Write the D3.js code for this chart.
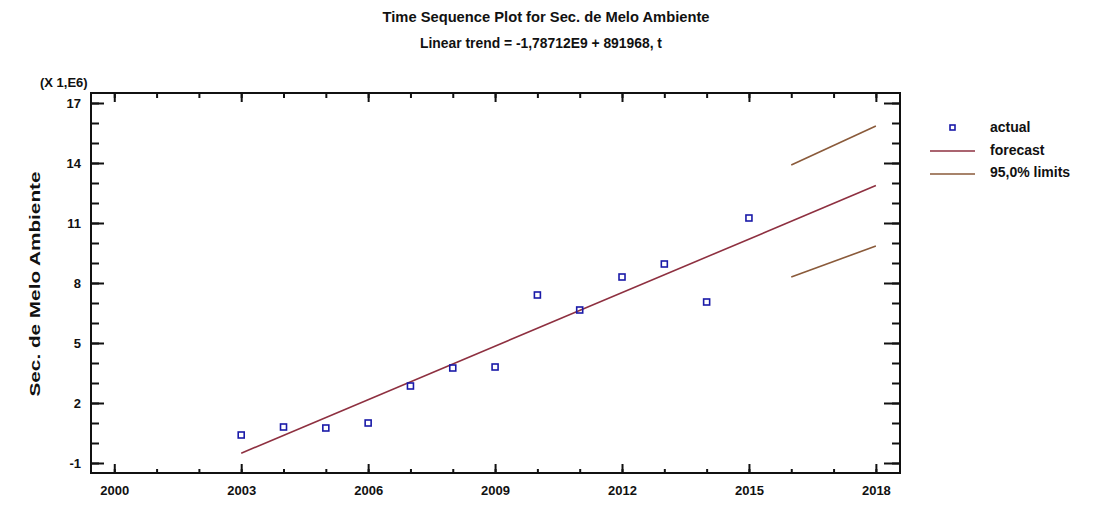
<!DOCTYPE html>
<html lang="en">
  <head>
    <meta charset="utf-8">
    <title>Time Sequence Plot</title>
    <script src="https://d3js.org/d3.v7.min.js"></script>
    <style>
      body { margin: 0; background: #fff; }
      text { font-family: "Liberation Sans", Arial, sans-serif; fill: #111; }
    </style>
  </head>
  <body>
    <script>
      var width = 1107;
      var height = 508;
      var margin = {top: 93, left: 91, right: 207, bottom: 35};

      // actual values (X 1,E6)
      var years = [2003, 2004, 2005, 2006, 2007, 2008, 2009, 2010, 2011, 2012, 2013, 2014, 2015];
      var actual = [0.4, 0.8, 0.75, 1.0, 2.85, 3.75, 3.8, 7.4, 6.65, 8.3, 8.95, 7.05, 11.25];

      // forecast line and 95% limits (end points)
      var forecastYears = [2003, 2018];
      var forecastValues = [-0.51, 12.87];
      var limitYears = [2016, 2018];
      var upperValues = [13.9, 15.85];
      var lowerValues = [8.3, 9.85];

      var xTicks = [2000, 2003, 2006, 2009, 2012, 2015, 2018];
      var yTicks = [-1, 2, 5, 8, 11, 14, 17];

      var svg = d3.select("body")
        .append("svg")
        .attr("width", width)
        .attr("height", height);

      var x = d3.scaleLinear()
        .domain([1999.45, 2018.57])
        .range([margin.left, width - margin.right]);

      var y = d3.scaleLinear()
        .domain([-1.5, 17.5])
        .range([height - margin.bottom, margin.top]);

      var x0 = margin.left, x1 = width - margin.right;
      var y0 = height - margin.bottom, y1 = margin.top;

      var minorX = d3.range(2000, 2019);
      var minorY = d3.range(-1, 18);

      function styleAxis(g) {
        g.select(".domain").remove();
        g.selectAll("line").attr("stroke", "#111").attr("stroke-width", 2);
        g.selectAll("text").attr("font-size", 13).attr("font-weight", "bold").attr("fill", "#222");
      }

      // left
      svg.append("g").attr("transform", `translate(${x0},0)`)
        .call(d3.axisLeft(y).tickValues(minorY).tickSize(-8).tickFormat(""))
        .call(styleAxis);
      svg.append("g").attr("transform", `translate(${x0},0)`)
        .call(d3.axisLeft(y).tickValues(yTicks).tickSize(-13).tickPadding(10)
          .tickFormat(function(d) { return String(d); }))
        .call(styleAxis);
      // right
      svg.append("g").attr("transform", `translate(${x1},0)`)
        .call(d3.axisRight(y).tickValues(minorY).tickSize(-8).tickFormat(""))
        .call(styleAxis);
      svg.append("g").attr("transform", `translate(${x1},0)`)
        .call(d3.axisRight(y).tickValues(yTicks).tickSize(-16).tickFormat(""))
        .call(styleAxis);
      // bottom
      svg.append("g").attr("transform", `translate(0,${y0})`)
        .call(d3.axisBottom(x).tickValues(minorX).tickSize(-4).tickFormat(""))
        .call(styleAxis);
      svg.append("g").attr("transform", `translate(0,${y0})`)
        .call(d3.axisBottom(x).tickValues(xTicks).tickSize(-9).tickPadding(13).tickFormat(d3.format("d")))
        .call(styleAxis);
      // top
      svg.append("g").attr("transform", `translate(0,${y1})`)
        .call(d3.axisTop(x).tickValues(minorX).tickSize(-5).tickFormat(""))
        .call(styleAxis);
      svg.append("g").attr("transform", `translate(0,${y1})`)
        .call(d3.axisTop(x).tickValues(xTicks).tickSize(-9).tickFormat(""))
        .call(styleAxis);

      svg.append("rect")
        .attr("x", x0).attr("y", y1)
        .attr("width", x1 - x0).attr("height", y0 - y1)
        .attr("fill", "none").attr("stroke", "#111").attr("stroke-width", 2);

      var line = d3.line()
        .x(function(d) { return x(d[0]); })
        .y(function(d) { return y(d[1]); });

      svg.append("path")
        .datum(d3.zip(forecastYears, forecastValues))
        .attr("d", line)
        .attr("fill", "none").attr("stroke", "#8e3040").attr("stroke-width", 1.6);

      [upperValues, lowerValues].forEach(function(vals) {
        svg.append("path")
          .datum(d3.zip(limitYears, vals))
          .attr("d", line)
          .attr("fill", "none").attr("stroke", "#8a5a3a").attr("stroke-width", 1.6);
      });

      svg.selectAll("rect.pt")
        .data(d3.zip(years, actual))
        .enter()
        .append("rect")
          .attr("class", "pt")
          .attr("x", function(d) { return x(d[0]) - 3; })
          .attr("y", function(d) { return y(d[1]) - 3; })
          .attr("width", 6)
          .attr("height", 6)
          .attr("fill", "none")
          .attr("stroke", "#1a1aa8")
          .attr("stroke-width", 1.6);

      // titles
      svg.append("text")
        .attr("x", 546).attr("y", 22)
        .attr("text-anchor", "middle")
        .attr("font-size", 14).attr("font-weight", "bold")
        .attr("textLength", 327).attr("lengthAdjust", "spacingAndGlyphs")
        .text("Time  Sequence Plot for  Sec. de Melo Ambiente");
      svg.append("text")
        .attr("x", 541).attr("y", 48)
        .attr("text-anchor", "middle")
        .attr("font-size", 14).attr("font-weight", "bold")
        .attr("textLength", 242).attr("lengthAdjust", "spacingAndGlyphs")
        .text("Linear trend = -1,78712E9 + 891968, t");

      svg.append("text")
        .attr("x", 40).attr("y", 87)
        .attr("font-size", 13).attr("font-weight", "bold")
        .text("(X 1,E6)");

      svg.append("text")
        .attr("transform", "translate(40,284) rotate(-90)")
        .attr("text-anchor", "middle")
        .attr("font-size", 14).attr("font-weight", "bold")
        .attr("textLength", 225).attr("lengthAdjust", "spacingAndGlyphs")
        .text("Sec. de Melo Ambiente");

      // legend
      var legend = svg.append("g");
      legend.append("rect")
        .attr("x", 950).attr("y", 125).attr("width", 5).attr("height", 5)
        .attr("fill", "none").attr("stroke", "#1a1aa8").attr("stroke-width", 1.6);
      legend.append("line")
        .attr("x1", 930).attr("x2", 975).attr("y1", 151).attr("y2", 151)
        .attr("stroke", "#8e3040").attr("stroke-width", 1.6);
      legend.append("line")
        .attr("x1", 930).attr("x2", 975).attr("y1", 174).attr("y2", 174)
        .attr("stroke", "#8a5a3a").attr("stroke-width", 1.6);
      var labels = ["actual", "forecast", "95,0% limits"];
      legend.selectAll("text")
        .data(labels)
        .enter()
        .append("text")
          .attr("x", 990)
          .attr("y", function(d, i) { return 132 + i * 22.5; })
          .attr("font-size", 14).attr("font-weight", "bold")
          .text(function(d) { return d; });
    </script>
  </body>
</html>
